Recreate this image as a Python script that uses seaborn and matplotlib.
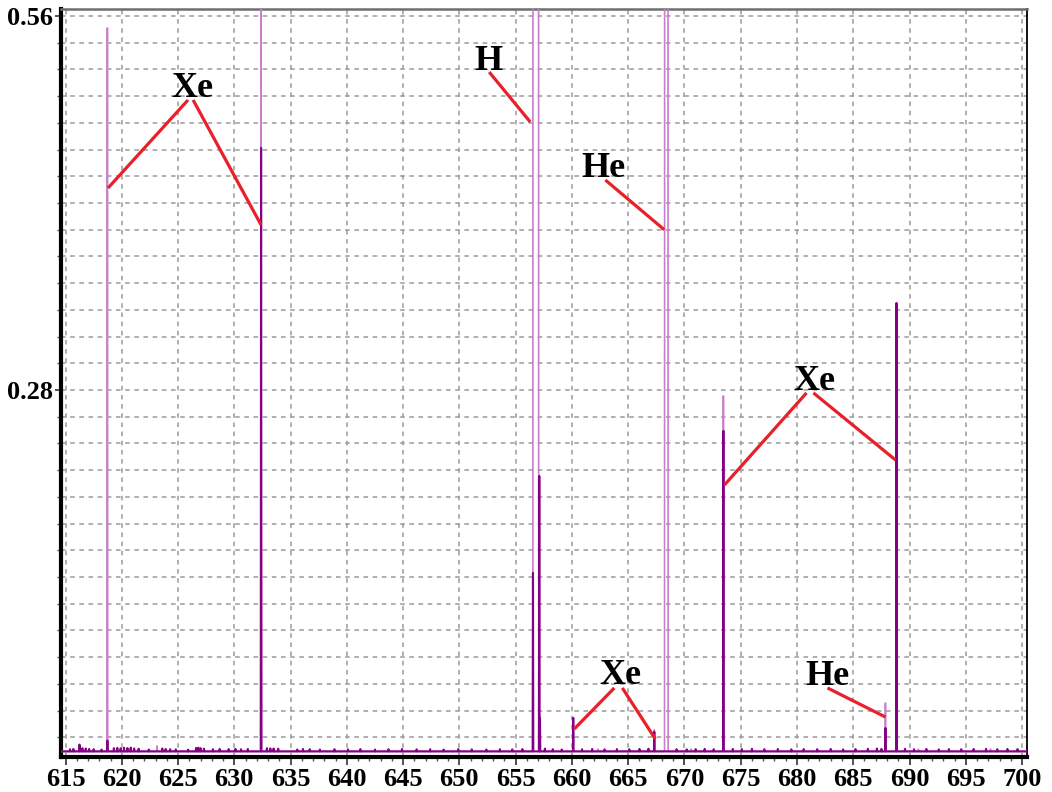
import numpy as np
import pandas as pd
import seaborn as sns
import matplotlib.pyplot as plt
from matplotlib.ticker import MultipleLocator, FixedLocator

# ---------------- spectral data (wavelength in nm, intensity) ----------------
baseline = 0.0094

# orchid trace: emission lines
light_line_nm = [618.72, 623.14, 632.38, 667.32, 673.46, 687.86, 688.84]
light_line_val = [0.551, 0.0135, 0.62, 0.0255, 0.2755, 0.0456, 0.1025]
# orchid trace: broad saturated lines (H, He)
light_band_lo = [656.54, 668.24]
light_band_hi = [657.04, 668.54]
light_band_val = [0.62, 0.62]

# purple trace: emission lines
dark_line_nm = [616.24, 618.72, 632.38, 656.54, 657.10, 657.16, 660.12, 667.32,
                673.46, 687.86, 688.84]
dark_line_val = [0.0145, 0.0175, 0.4612, 0.143, 0.2156, 0.0345, 0.0345, 0.0240,
                 0.2493, 0.0269, 0.3451]

# purple trace: small detector noise blips on the baseline
dark_noise_nm = [615.4, 615.7, 616.5, 616.8, 617.1, 617.5, 618.2, 619.3, 619.6,
                 619.9, 620.2, 620.5, 620.8, 621.1, 621.5, 622.4, 623.6, 623.9,
                 624.3, 624.8, 625.9, 626.6, 626.8, 627.0, 627.3, 628.1, 628.7,
                 629.5, 630.1, 630.6, 631.2, 632.9, 633.2, 633.5, 633.9, 635.6,
                 636.1, 636.7, 637.6, 638.9, 640.1, 641.2, 642.5, 643.7, 644.9,
                 646.2, 647.4, 648.6, 649.9, 651.1, 652.4, 653.6, 654.7, 655.6,
                 657.6, 658.3, 659.1, 660.9, 661.8, 662.9, 664.0, 665.1, 666.0,
                 666.8, 669.3, 670.2, 671.0, 671.8, 672.6, 674.3, 675.1, 676.0,
                 677.1, 678.3, 679.5, 680.6, 681.8, 683.0, 684.1, 685.2, 686.3,
                 687.1, 687.5, 689.6, 690.4, 691.5, 692.6, 693.5, 694.6, 695.7,
                 696.8, 697.8, 698.7, 699.6]
dark_noise_val = [0.0110, 0.0112, 0.0118, 0.0115, 0.0112, 0.0110, 0.0108, 0.0118, 0.0120,
                  0.0117, 0.0121, 0.0119, 0.0122, 0.0116, 0.0114, 0.0108, 0.0115, 0.0112,
                  0.0110, 0.0109, 0.0107, 0.0120, 0.0122, 0.0118, 0.0114, 0.0110, 0.0112,
                  0.0111, 0.0113, 0.0110, 0.0112, 0.0118, 0.0116, 0.0115, 0.0114, 0.0108,
                  0.0112, 0.0110, 0.0108, 0.0110, 0.0109, 0.0111, 0.0108, 0.0110, 0.0112,
                  0.0109, 0.0110, 0.0108, 0.0111, 0.0109, 0.0108, 0.0110, 0.0109, 0.0111,
                  0.0114, 0.0110, 0.0108, 0.0110, 0.0112, 0.0109, 0.0111, 0.0110, 0.0112,
                  0.0114, 0.0110, 0.0109, 0.0111, 0.0113, 0.0110, 0.0112, 0.0111, 0.0113,
                  0.0110, 0.0112, 0.0109, 0.0111, 0.0110, 0.0112, 0.0109, 0.0111, 0.0113,
                  0.0115, 0.0112, 0.0113, 0.0110, 0.0112, 0.0109, 0.0111, 0.0110, 0.0112,
                  0.0113, 0.0110, 0.0112, 0.0111]

# orchid trace: a few visible noise blips
light_noise_nm = [616.3, 620.6, 627.0, 633.4, 662.3, 670.6, 690.8, 697.2]
light_noise_val = [0.0112, 0.0113, 0.0112, 0.0111, 0.0110, 0.0111, 0.0110, 0.0112]

x_tick_values = list(range(615, 701, 5))
y_tick_values = [0.28, 0.56]
y_tick_labels = ["0.28", "0.56"]

# element labels with leader lines (label position, then line segments)
annotations = [
    ("Xe", 626.29, 0.4994, [((625.89, 0.4971), (618.78, 0.4312)),
                            ((626.34, 0.4971), (632.38, 0.4035))]),
    ("H", 652.56, 0.5196, [((652.65, 0.5180), (656.30, 0.4806))]),
    ("He", 662.79, 0.4395, [((662.97, 0.4372), (668.20, 0.4000))]),
    ("Xe", 664.35, 0.0600, [((663.77, 0.0569), (660.21, 0.0262)),
                            ((664.48, 0.0569), (667.41, 0.0187))]),
    ("Xe", 681.51, 0.2800, [((680.85, 0.2778), (673.56, 0.2089)),
                            ((681.46, 0.2778), (688.75, 0.2276))]),
    ("He", 682.75, 0.0591, [((682.71, 0.0569), (687.87, 0.0351))]),
]

X_MIN, X_MAX = 614.6, 700.44
Y_MIN, Y_MAX = 0.0052, 0.5652
HALF_WIDTH = 0.03


def build_trace(line_nm, line_val, band_lo=(), band_hi=(), band_val=()):
    """Assemble a spectrum polyline from narrow lines and flat-topped bands."""
    pieces = []
    for c, v in zip(line_nm, line_val):
        pieces.append([(c - HALF_WIDTH, baseline), (c, v), (c + HALF_WIDTH, baseline)])
    for lo, hi, v in zip(band_lo, band_hi, band_val):
        pieces.append([(lo - 0.01, baseline), (lo, v), (hi, v), (hi + 0.01, baseline)])
    pieces.sort(key=lambda p: p[0][0])
    pts = [(X_MIN - 1, baseline)]
    for p in pieces:
        pts.extend(p)
    pts.append((X_MAX + 1, baseline))
    arr = np.array(pts)
    return pd.DataFrame({"nm": arr[:, 0], "intensity": arr[:, 1],
                         "order": np.arange(len(arr))})


light_df = build_trace(light_line_nm + light_noise_nm, light_line_val + light_noise_val,
                       light_band_lo, light_band_hi, light_band_val)
dark_df = build_trace(dark_line_nm + dark_noise_nm, dark_line_val + dark_noise_val)

# ---------------- figure ----------------
sns.set_theme(style="white")
plt.rcParams["font.family"] = ["Liberation Serif", "DejaVu Serif"]
plt.rcParams["font.weight"] = "bold"

fig = plt.figure(figsize=(10.52, 7.92), dpi=100)
ax = fig.add_axes([61 / 1052, 1 - 757 / 792, (1027 - 61) / 1052, (757 - 9) / 792])

sns.lineplot(data=light_df, x="nm", y="intensity", sort=False, estimator=None,
             color="#c77fca", linewidth=1.2, ax=ax, zorder=3)
sns.lineplot(data=dark_df, x="nm", y="intensity", sort=False, estimator=None,
             color="#850085", linewidth=1.5, ax=ax, zorder=4)

ax.set_xlim(X_MIN, X_MAX)
ax.set_ylim(Y_MIN, Y_MAX)
ax.set_xlabel("")
ax.set_ylabel("")

ax.xaxis.set_major_locator(FixedLocator(x_tick_values))
ax.xaxis.set_minor_locator(MultipleLocator(1))
ax.set_yticks(y_tick_values)
ax.set_yticklabels(y_tick_labels)
ax.yaxis.set_minor_locator(MultipleLocator(0.02))

grid_kw = dict(color="#9a9a9a", linestyle=(0, (3, 3)), linewidth=1.1)
ax.grid(False)
ax.xaxis.grid(True, which="major", **grid_kw)
ax.yaxis.grid(True, which="both", **grid_kw)
ax.set_axisbelow(True)

ax.tick_params(axis="x", which="major", direction="out", length=6, width=1.2,
               color="#333333", labelsize=19, pad=2, bottom=True)
ax.tick_params(axis="x", which="minor", direction="out", length=3, width=1,
               color="#555555", bottom=True)
ax.tick_params(axis="y", which="major", direction="out", length=4, width=1.2,
               color="#333333", labelsize=19, pad=2, left=True)
ax.tick_params(axis="y", which="minor", direction="out", length=3, width=1,
               color="#555555", left=True)
for lbl in ax.get_xticklabels() + ax.get_yticklabels():
    lbl.set_fontweight("bold")
    lbl.set_color("black")

for side, lw, col in [("left", 3.0, "black"), ("bottom", 3.0, "black"),
                      ("top", 1.8, "#6e6e6e"), ("right", 1.3, "black")]:
    ax.spines[side].set_visible(True)
    ax.spines[side].set_linewidth(lw)
    ax.spines[side].set_color(col)

for text, tx, ty, segs in annotations:
    for (x0, y0), (x1, y1) in segs:
        ax.plot([x0, x1], [y0, y1], color="#e8202a", linewidth=2.3,
                solid_capstyle="butt", zorder=5)
    ax.text(tx, ty, text, ha="center", va="baseline", fontsize=26,
            fontweight="bold", color="black", zorder=6)

fig.savefig("out.png", dpi=100)
